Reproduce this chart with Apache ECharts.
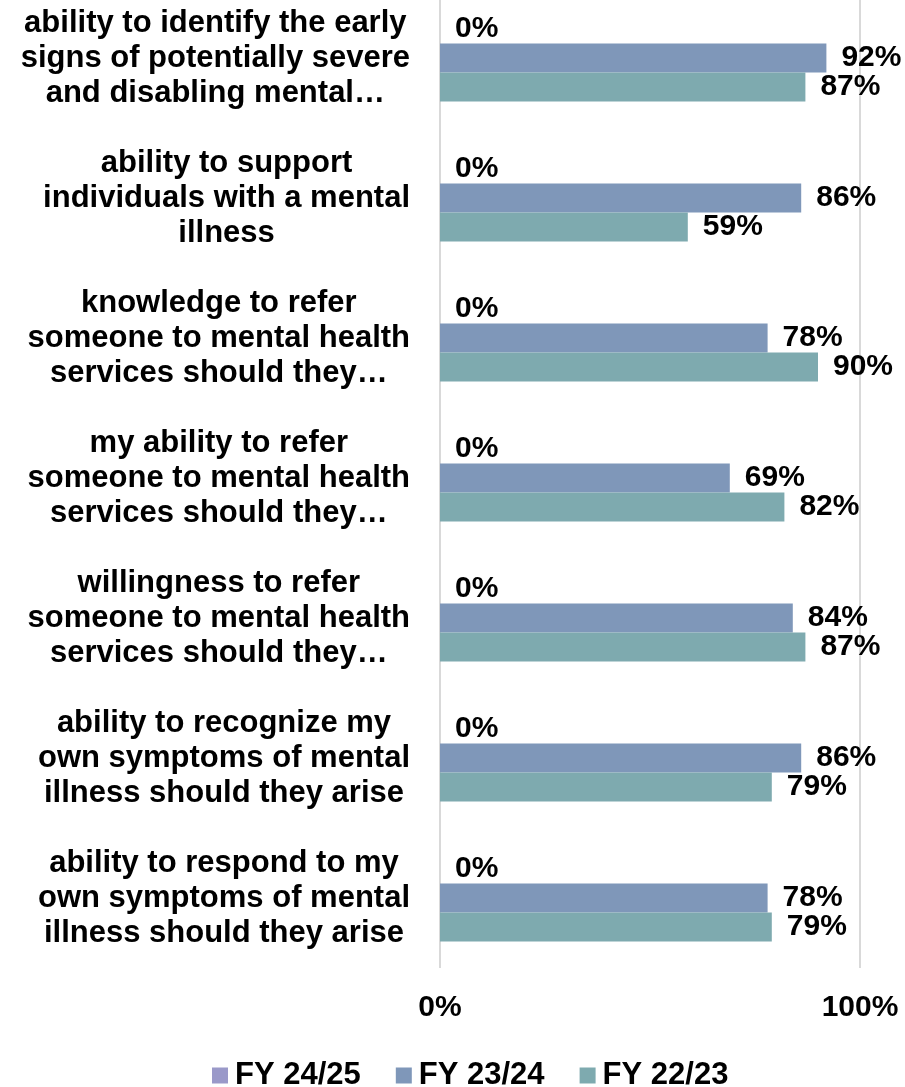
<!DOCTYPE html>
<html>
<head>
<meta charset="utf-8">
<script src="https://cdn.jsdelivr.net/npm/echarts@6/dist/echarts.min.js"></script>
<style>html,body{margin:0;padding:0;background:#fff;}#c{width:905px;height:1087px;}</style>
</head>
<body>
<div id="c"></div>
<script>
const categories = [
  "ability to identify the early\nsigns of potentially severe\nand disabling mental…",
  "ability to support\nindividuals with a mental\nillness",
  "knowledge to refer\nsomeone to mental health\nservices should they…",
  "my ability to refer\nsomeone to mental health\nservices should they…",
  "willingness to refer\nsomeone to mental health\nservices should they…",
  "ability to recognize my\nown symptoms of mental\nillness should they arise",
  "ability to respond to my\nown symptoms of mental\nillness should they arise"
];
const seriesNames = ["FY 24/25", "FY 23/24", "FY 22/23"];
const fy2425 = [0, 0, 0, 0, 0, 0, 0];
const fy2324 = [92, 86, 78, 69, 84, 86, 78];
const fy2223 = [87, 59, 90, 82, 87, 79, 79];
const xTicks = [0, 100];

const colors = ["#9A99C9", "#7F97B9", "#7EAAAF"];
const font = "Liberation Sans, Arial, sans-serif";
const labelStyle = {
  show: true, position: "right", distance: 15,
  formatter: p => p.value + "%",
  fontFamily: font, fontWeight: "bold", fontSize: 30, color: "#000"
};
const chart = echarts.init(document.getElementById("c"), null, {renderer: "canvas"});
chart.setOption({
  animation: false,
  backgroundColor: "#fff",
  grid: {left: 440, right: 45, top: -12, height: 980, containLabel: false, outerBoundsMode: "none"},
  legend: {
    top: 1055, left: 207,
    itemWidth: 16, itemHeight: 16, itemGap: 35,
    icon: "rect",
    textStyle: {fontFamily: font, fontWeight: "bold", fontSize: 31, color: "#000", padding: [0, 0, 0, 2]},
    data: seriesNames
  },
  xAxis: {
    type: "value", min: xTicks[0], max: xTicks[1], interval: 100,
    axisLine: {show: false}, axisTick: {show: false},
    splitLine: {show: true, lineStyle: {color: "#D9D9D9", width: 2}},
    axisLabel: {formatter: v => v + "%", margin: 25, fontFamily: font, fontWeight: "bold", fontSize: 30, color: "#000"}
  },
  yAxis: {
    type: "category", data: categories, inverse: true,
    axisLine: {show: false}, axisTick: {show: false},
    axisLabel: {
      margin: 30, align: "right",
      formatter: v => "{c|" + v + "}",
      rich: {c: {align: "center", lineHeight: 35, fontFamily: font, fontWeight: "bold", fontSize: 31, color: "#000"}}
    }
  },
  series: [
    {name: seriesNames[0], type: "bar", data: fy2425, barGap: "0%", barCategoryGap: "38%", itemStyle: {color: colors[0]}, label: labelStyle},
    {name: seriesNames[1], type: "bar", data: fy2324, barGap: "0%", barCategoryGap: "38%", itemStyle: {color: colors[1]}, label: labelStyle},
    {name: seriesNames[2], type: "bar", data: fy2223, barGap: "0%", barCategoryGap: "38%", itemStyle: {color: colors[2]}, label: labelStyle}
  ]
});
</script>
</body>
</html>
